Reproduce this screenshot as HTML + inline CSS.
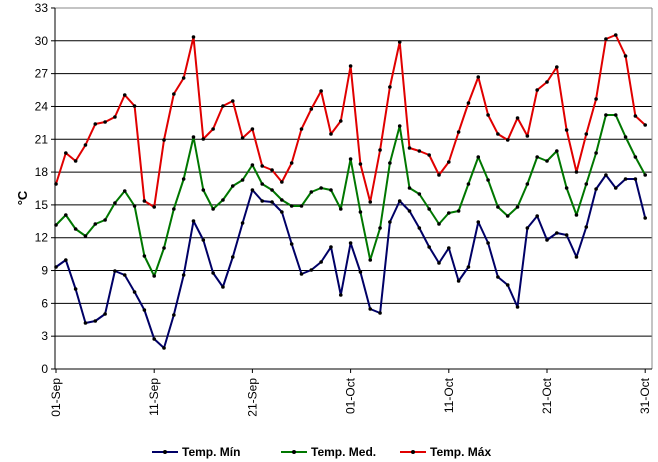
<!DOCTYPE html>
<html><head><meta charset="utf-8"><style>
body{margin:0;background:#fff;}
svg{display:block;font-family:"Liberation Sans",sans-serif;}
</style></head><body>
<svg id="s" width="658" height="462" viewBox="0 0 658 462">
<rect x="0" y="0" width="658" height="462" fill="#fff"/>
<g id="grid" stroke="#000" stroke-width="1"></g>
<line x1="55" y1="8" x2="652" y2="8" stroke="#888"/>
<line x1="652" y1="8" x2="652" y2="369" stroke="#888"/>
<line x1="55" y1="8" x2="55" y2="369" stroke="#000"/>
<line x1="55" y1="369" x2="652" y2="369" stroke="#000"/>
<g id="ylab" font-size="12" text-anchor="end" fill="#000"></g>
<g id="xlab" font-size="12" fill="#000"></g>
<text x="0" y="0" transform="translate(27,198) rotate(-90)" font-size="13" font-weight="bold" text-anchor="middle">°C</text>
<g id="series"></g>
<g font-size="12" font-weight="bold">
<line x1="152" y1="452" x2="178" y2="452" stroke="#000066" stroke-width="2"/><circle cx="165" cy="452" r="2" fill="#000"/>
<text x="182" y="456">Temp. Mín</text>
<line x1="281" y1="452" x2="307" y2="452" stroke="#007700" stroke-width="2"/><circle cx="294" cy="452" r="2" fill="#000"/>
<text x="311" y="456">Temp. Med.</text>
<line x1="400" y1="452" x2="426" y2="452" stroke="#e00000" stroke-width="2"/><circle cx="413" cy="452" r="2" fill="#000"/>
<text x="430" y="456">Temp. Máx</text>
</g>
</svg>
<script>
var NS="http://www.w3.org/2000/svg";
function el(p,t,a,txt){var e=document.createElementNS(NS,t);for(var k in a)e.setAttribute(k,a[k]);if(txt!=null)e.textContent=txt;p.appendChild(e);return e;}
var g=document.getElementById('grid'),yl=document.getElementById('ylab'),xl=document.getElementById('xlab');
for(var v=0;v<=33;v+=3){var y=369-v*10.94;if(v>0&&v<33)el(g,'line',{x1:55,x2:652,y1:y,y2:y});el(g,'line',{x1:51,x2:55,y1:y,y2:y});el(yl,'text',{x:48,y:y+4},String(v));}
var labs=[[0,'01-Sep'],[10,'11-Sep'],[20,'21-Sep'],[30,'01-Oct'],[40,'11-Oct'],[50,'21-Oct'],[60,'31-Oct']];
for(var i=0;i<=60;i+=10){var x=56+9.82*i;el(g,'line',{x1:x,x2:x,y1:369,y2:373});}
labs.forEach(function(l){var x=56+9.82*l[0]+4;el(xl,'text',{transform:'translate('+x+',378) rotate(-90)','text-anchor':'end'},l[1]);});
var red=[184,153,161,145,124,122,117,95,106,201,207,140,94,78,37,139,129,106,101,138,129,166,170,182,163,129,109,91,134,121,66,164,202,150,87,42,148,151,155,175,162,132,103,77,115,134,140,118,136,90,82,67,130,172,134,99,39,35,56,116,125];
var grn=[225,215,229,236,224,220,203,191,206,256,276,248,209,179,137,190,209,200,186,180,165,184,190,200,206,206,192,188,190,209,159,212,260,228,163,126,188,194,209,224,213,211,184,157,180,207,216,207,184,157,161,151,188,215,184,153,115,115,137,157,175];
var blu=[267,260,289,323,321,314,271,275,292,310,339,348,315,275,221,240,273,287,257,223,190,201,202,212,244,274,270,262,247,295,243,272,309,313,222,201,211,228,247,263,248,281,267,222,243,277,285,307,228,216,240,233,235,257,227,189,175,188,179,179,218];
var sg=document.getElementById('series');
[[blu,'#000066'],[grn,'#007700'],[red,'#e00000']].forEach(function(s){
var pts=s[0].map(function(y,i){return (56+9.82*i).toFixed(1)+','+y;}).join(' ');
el(sg,'polyline',{points:pts,fill:'none',stroke:s[1],'stroke-width':2,'stroke-linejoin':'round'});
s[0].forEach(function(y,i){el(sg,'circle',{cx:56+9.82*i,cy:y,r:1.8,fill:'#000'});});
});
</script>
</body></html>
